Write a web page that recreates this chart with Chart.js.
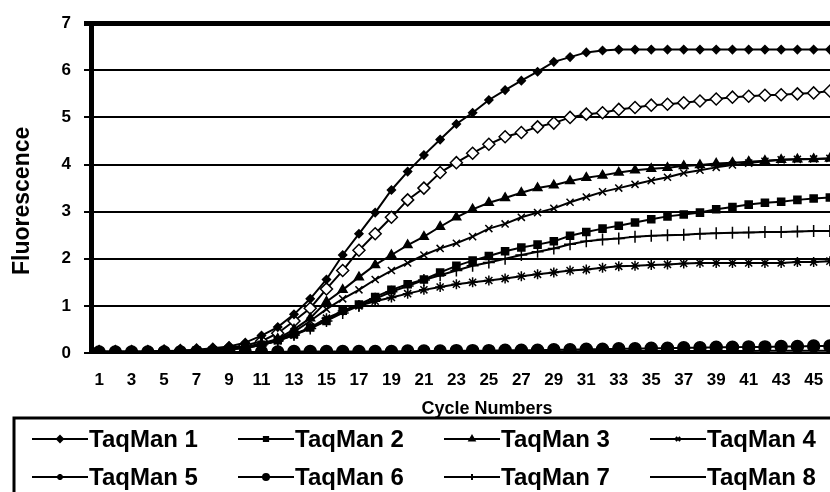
<!DOCTYPE html>
<html>
<head>
<meta charset="utf-8">
<script src="https://cdn.jsdelivr.net/npm/chart.js@4.4.1/dist/chart.umd.min.js"></script>
<style>
html, body { margin: 0; padding: 0; background: #fff; overflow: hidden; width: 830px; height: 492px; }
</style>
</head>
<body>
<canvas id="myChart" width="850" height="492"></canvas>
<script>
// cicli (asse x)
var cycles = [1,2,3,4,5,6,7,8,9,10,11,12,13,14,15,16,17,18,19,20,21,22,23,24,25,26,27,28,29,30,31,32,33,34,35,36,37,38,39,40,41,42,43,44,45,46];
var yTicks = [0,1,2,3,4,5,6,7];

// valori di fluorescenza
var taqman1 = [0.03,0.03,0.03,0.03,0.04,0.05,0.07,0.10,0.14,0.22, 0.37,0.55,0.82,1.15,1.56,2.08,2.53,2.98,3.46,3.85, 4.20,4.53,4.86,5.10,5.37,5.58,5.78,5.97,6.18,6.28, 6.38,6.42,6.44,6.44,6.44,6.44,6.44,6.44,6.44,6.44, 6.44,6.44,6.44,6.44,6.44,6.44];
var taqman2 = [0.02,0.02,0.02,0.02,0.03,0.04,0.05,0.06,0.08,0.11, 0.17,0.27,0.40,0.54,0.68,0.90,1.03,1.19,1.34,1.46, 1.56,1.71,1.85,1.96,2.06,2.16,2.24,2.30,2.37,2.49, 2.57,2.64,2.70,2.77,2.84,2.90,2.94,2.98,3.05,3.10, 3.15,3.19,3.21,3.25,3.28,3.30];
var taqman3 = [0.02,0.02,0.02,0.02,0.03,0.04,0.05,0.07,0.09,0.13, 0.20,0.30,0.50,0.74,1.09,1.34,1.61,1.87,2.08,2.29, 2.47,2.68,2.88,3.05,3.19,3.29,3.40,3.50,3.56,3.65, 3.72,3.77,3.83,3.88,3.91,3.93,3.97,3.99,4.02,4.04, 4.06,4.08,4.10,4.11,4.12,4.13];
var taqman4 = [0.02,0.02,0.02,0.02,0.03,0.04,0.05,0.06,0.08,0.12, 0.18,0.28,0.45,0.68,0.93,1.15,1.34,1.56,1.75,1.91, 2.08,2.22,2.33,2.47,2.64,2.74,2.88,2.98,3.07,3.20, 3.31,3.42,3.50,3.58,3.66,3.73,3.82,3.88,3.94,3.99, 4.03,4.07,4.10,4.11,4.12,4.13];
var taqman5 = [0.02,0.02,0.02,0.02,0.03,0.04,0.05,0.06,0.08,0.11, 0.17,0.26,0.38,0.54,0.74,0.89,1.00,1.10,1.18,1.26, 1.34,1.40,1.46,1.50,1.54,1.58,1.63,1.67,1.71,1.75, 1.77,1.81,1.84,1.85,1.87,1.88,1.90,1.91,1.91,1.91, 1.91,1.91,1.91,1.93,1.93,1.95];
var taqman6 = [0.02,0.02,0.02,0.02,0.02,0.02,0.02,0.02,0.02,0.02, 0.02,0.02,0.03,0.03,0.03,0.03,0.03,0.03,0.03,0.04, 0.04,0.04,0.05,0.05,0.05,0.06,0.06,0.06,0.07,0.07, 0.08,0.08,0.09,0.09,0.10,0.10,0.11,0.11,0.12,0.12, 0.13,0.13,0.14,0.14,0.15,0.15];
var taqman7 = [0.02,0.02,0.02,0.02,0.03,0.04,0.05,0.06,0.08,0.11, 0.17,0.26,0.38,0.52,0.68,0.85,1.00,1.15,1.30,1.42, 1.55,1.65,1.75,1.85,1.92,2.00,2.08,2.15,2.22,2.31, 2.37,2.41,2.43,2.47,2.49,2.50,2.51,2.53,2.54,2.55, 2.56,2.57,2.57,2.58,2.59,2.59];
var taqman8 = [0.01,0.01,0.01,0.01,0.01,0.01,0.01,0.01,0.01,0.01, 0.01,0.01,0.01,0.01,0.02,0.02,0.02,0.02,0.02,0.02, 0.02,0.02,0.03,0.03,0.03,0.03,0.03,0.03,0.03,0.03, 0.04,0.04,0.04,0.04,0.04,0.04,0.04,0.04,0.04,0.04, 0.04,0.05,0.05,0.05,0.05,0.05];
var taqman9 = [0.03,0.03,0.03,0.03,0.04,0.05,0.06,0.08,0.11,0.16, 0.25,0.42,0.68,0.95,1.36,1.75,2.18,2.53,2.88,3.25, 3.50,3.83,4.04,4.24,4.43,4.59,4.68,4.80,4.88,5.00, 5.07,5.10,5.17,5.21,5.26,5.28,5.31,5.35,5.39,5.43, 5.45,5.47,5.48,5.50,5.52,5.56];

var FONT = '"Liberation Sans", Arial, sans-serif';

function serie(label, data, style, radius, fill) {
	return {
		label: label,
		data: data,
		borderColor: '#000',
		backgroundColor: '#000',
		borderWidth: 2,
		pointStyle: style,
		pointRadius: radius,
		pointBackgroundColor: fill,
		pointBorderColor: '#000',
		pointBorderWidth: 1.5,
		tension: 0
	};
}

// legenda disegnata a mano dentro il riquadro come nell'originale
var legendBox = {
	id: 'legendBox',
	afterDraw: function(chart) {
		var ctx = chart.ctx;
		ctx.save();
		ctx.lineWidth = 3;
		ctx.strokeStyle = '#000';
		ctx.strokeRect(14, 418, 900, 200);
		ctx.font = 'bold 24px ' + FONT;
		ctx.textBaseline = 'middle';
		chart.data.datasets.forEach(function(ds, i) {
			var col = i % 4, row = Math.floor(i / 4);
			var x = 32 + col * 206, y = 439 + row * 38;
			ctx.strokeStyle = '#000';
			ctx.lineWidth = 2;
			ctx.beginPath();
			ctx.moveTo(x, y);
			ctx.lineTo(x + 56, y);
			ctx.stroke();
			ctx.fillStyle = ds.pointBackgroundColor;
			Chart.helpers.drawPoint(ctx, {pointStyle: ds.pointStyle, radius: 3, borderWidth: 1.5, rotation: 0}, x + 28, y);
			ctx.fillStyle = '#000';
			ctx.fillText(ds.label, x + 57, y + 1);
		});
		ctx.restore();
	}
};

var ctx = document.getElementById('myChart').getContext('2d');
var myChart = new Chart(ctx, {
	type: 'line',
	data: {
		labels: cycles,
		datasets: [
			serie('TaqMan 1', taqman1, 'rectRot', 4, '#000'),
			serie('TaqMan 2', taqman2, 'rect', 5, '#000'),
			serie('TaqMan 3', taqman3, 'triangle', 5, '#000'),
			serie('TaqMan 4', taqman4, 'crossRot', 5, '#000'),
			serie('TaqMan 5', taqman5, 'star', 5, '#000'),
			serie('TaqMan 6', taqman6, 'circle', 6, '#000'),
			serie('TaqMan 7', taqman7, 'cross', 6, '#000'),
			serie('TaqMan 8', taqman8, 'dash', 3, '#000'),
			serie('TaqMan 9', taqman9, 'rectRot', 6, '#fff')
		]
	},
	options: {
		responsive: false,
		animation: false,
		devicePixelRatio: 1,
		layout: { padding: { top: 13, right: 12, bottom: 72, left: 0 } },
		plugins: {
			legend: { display: false },
			tooltip: { enabled: false }
		},
		scales: {
			x: {
				offset: true,
				grid: { display: false, drawTicks: false, offset: true },
				border: { display: false },
				ticks: {
					autoSkip: false,
					maxRotation: 0,
					padding: 17,
					color: '#000',
					font: { family: FONT, size: 17, weight: 'bold' },
					callback: function(value, index) {
						return index % 2 === 0 ? cycles[index] : '';
					}
				},
				title: {
					display: true,
					text: 'Cycle Numbers'.padStart(22, '\u00a0'),
					color: '#000',
					font: { family: FONT, size: 18, weight: 'bold' },
					padding: { top: 0, bottom: 0 }
				},
				afterFit: function(scale) { scale.height = 67; }
			},
			y: {
				min: 0,
				max: 7,
				afterBuildTicks: function(scale) {
					scale.ticks = yTicks.map(function(v) { return { value: v }; });
				},
				grid: {
					color: '#000',
					lineWidth: function(c) { return c.tick && c.tick.value === 7 ? 5 : 2; },
					tickLength: 7
				},
				border: { color: '#000', width: 5 },
				ticks: {
					padding: 13,
					color: '#000',
					font: { family: FONT, size: 17, weight: 'bold' }
				},
				title: {
					display: true,
					text: 'Fluorescence\u00a0\u00a0\u00a0\u00a0',
					color: '#000',
					font: { family: FONT, size: 23, weight: 'bold' },
					padding: { top: 9, bottom: 0 }
				},
				afterFit: function(scale) { scale.width = 91; }
			}
		}
	},
	plugins: [legendBox]
});
</script>
</body>
</html>
